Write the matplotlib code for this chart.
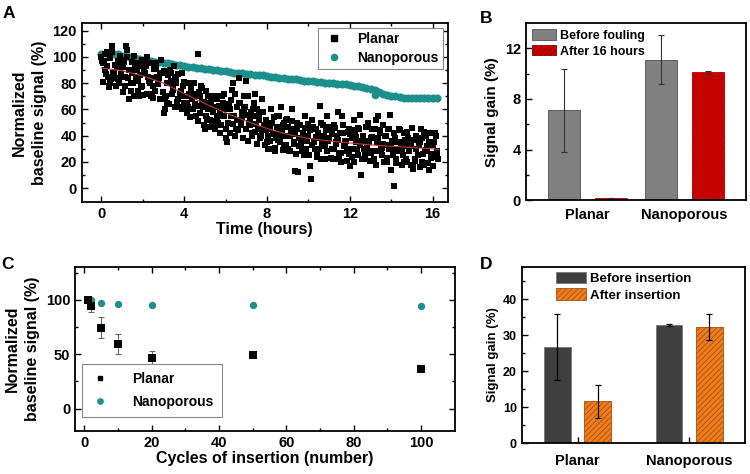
import numpy as np
import matplotlib
matplotlib.use("Agg")
import matplotlib.pyplot as plt
from matplotlib.patches import Patch
from matplotlib.lines import Line2D

plt.rcParams['font.family'] = ['Liberation Sans', 'DejaVu Sans']
plt.rcParams['font.weight'] = 'bold'
plt.rcParams['axes.labelweight'] = 'bold'
plt.rcParams['hatch.linewidth'] = 0.6

# ---------------- Panel A data ----------------
# planar run 1 (16 readings per hour)
planar_rows = [
    [100, 95, 97, 90, 104, 85, 78, 80, 108, 88, 86, 84, 92, 83, 100, 87],
    [98, 73, 85, 108, 105, 68, 90, 80, 88, 70, 92, 95, 82, 70, 86, 78],
    [97, 90, 88, 100, 85, 82, 70, 72, 78, 95, 92, 85, 80, 88, 98, 68],
    [57, 60, 70, 65, 88, 90, 82, 75, 93, 85, 80, 68, 62, 72, 88, 78],
    [65, 70, 57, 62, 80, 75, 68, 60, 72, 55, 63, 102, 70, 78, 66, 48],
    [45, 55, 60, 65, 52, 70, 58, 48, 62, 68, 50, 55, 42, 60, 65, 72],
    [38, 35, 50, 60, 55, 75, 80, 72, 45, 52, 84, 65, 48, 58, 70, 62],
    [82, 70, 50, 48, 42, 55, 65, 72, 60, 45, 52, 40, 68, 58, 48, 44],
    [35, 40, 45, 60, 50, 30, 28, 38, 55, 42, 35, 62, 48, 32, 40, 52],
    [30, 28, 40, 60, 45, 35, 13, 50, 12, 38, 32, 28, 42, 55, 30, 36],
    [40, 17, 7, 52, 35, 30, 45, 25, 38, 63, 22, 48, 40, 32, 55, 36],
    [38, 45, 30, 22, 48, 35, 40, 58, 27, 20, 55, 42, 32, 36, 28, 45],
    [17, 30, 38, 52, 42, 35, 25, 45, 56, 10, 40, 30, 22, 36, 50, 28],
    [38, 45, 28, 22, 52, 35, 55, 42, 30, 25, 48, 33, 40, 20, 45, 56],
    [14, 30, 2, 38, 22, 28, 45, 35, 18, 25, 42, 32, 20, 38, 28, 34],
    [46, 15, 22, 30, 38, 25, 35, 45, 20, 18, 28, 40, 32, 14, 42, 26],
    [17, 35, 42, 28, 22],
]
# planar run 2 (interleaved readings)
planar_rows2 = [
    [97, 81, 102, 87, 93, 77, 99, 83, 104, 88, 94, 78, 97, 80, 101, 85],
    [92, 96, 78, 100, 84, 90, 74, 96, 80, 101, 85, 90, 74, 93, 77, 98],
    [71, 88, 93, 72, 95, 80, 84, 69, 91, 74, 95, 79, 84, 68, 88, 73],
    [89, 69, 80, 86, 64, 88, 72, 78, 62, 84, 66, 87, 70, 74, 60, 81],
    [61, 80, 65, 72, 54, 76, 60, 80, 64, 70, 51, 73, 57, 76, 62, 66],
    [74, 53, 70, 47, 66, 51, 62, 45, 70, 54, 63, 59, 48, 70, 55, 62],
    [45, 60, 64, 42, 67, 49, 55, 40, 62, 44, 65, 50, 54, 38, 60, 45],
    [56, 36, 52, 58, 40, 60, 43, 49, 34, 56, 38, 58, 44, 48, 33, 52],
    [30, 48, 36, 50, 41, 54, 31, 47, 37, 55, 40, 44, 29, 50, 33, 53],
    [47, 28, 43, 51, 34, 41, 26, 45, 32, 48, 36, 40, 25, 46, 30, 49],
    [25, 44, 33, 47, 36, 39, 24, 42, 30, 50, 34, 38, 22, 44, 28, 47],
    [45, 23, 41, 30, 46, 34, 37, 22, 42, 27, 48, 32, 36, 21, 43, 26],
    [41, 24, 44, 20, 39, 30, 46, 33, 36, 22, 40, 25, 47, 31, 35, 21],
    [27, 39, 22, 45, 18, 38, 28, 44, 31, 34, 20, 40, 23, 45, 30, 33],
    [36, 25, 42, 19, 35, 29, 44, 31, 30, 20, 37, 22, 43, 28, 32, 18],
    [17, 37, 21, 40, 25, 33, 16, 38, 26, 43, 29, 31, 19, 35, 23, 42],
    [33, 24, 40, 27],
]
planar_vals = [v for row in planar_rows for v in row]
planar_time = np.arange(len(planar_vals)) / 16.0
planar_vals2 = [v for row in planar_rows2 for v in row]
planar_time2 = np.arange(len(planar_vals2)) / 16.0 + 1 / 32.0

nano_vals = [102, 103, 103, 102, 102, 101, 100.5, 100, 99, 98.5,
             98, 97.5, 97, 96.5, 96, 95.5, 95, 94.5, 94, 93.5,
             93, 92.5, 92, 91.5, 91.5, 91, 90.5, 90, 90, 89.5,
             89, 88.5, 88, 88, 87.5, 87, 87, 86.5, 86, 86,
             85.5, 85, 84.5, 84, 84, 83.5, 83, 83, 82.5, 82,
             82, 81.5, 81, 81, 80.5, 80.5, 80, 79.5, 79, 79,
             78.5, 78, 77.5, 77, 76.5, 75.5, 75, 73.5, 72, 71,
             70.5, 70, 69.5, 69, 69, 69, 68.5, 68.5, 68.5, 68.5,
             69, 69]
nano_time = np.arange(len(nano_vals)) * 0.2
nano_out_t = [13.2]
nano_out_v = [71]

fit_t = [0, 1, 2, 3, 4, 5, 6, 7, 8, 9, 10, 11, 12, 13, 14, 15, 16, 16.3]
fit_v = [91.5, 89.5, 85.5, 80, 72, 64.5, 57.5, 51, 45.5, 41, 38, 36, 34.5, 33, 32, 31, 30, 29.5]

# ---------------- Panel B data ----------------
b_cats = ['Planar', 'Nanoporous']
b_before = [7.1, 11.1]
b_before_err = [3.3, 1.95]
b_after = [0.15, 10.1]
b_after_err = [0.0, 0.15]

# ---------------- Panel C data ----------------
c_cycles = [1, 2, 5, 10, 20, 50, 100]
c_planar = [100, 94, 74.5, 59.5, 46.5, 49, 36.5]
c_planar_err = [0, 5, 9.5, 9.5, 6.5, 2.5, 1.5]
c_nano = [100, 100, 97, 96.5, 95, 95, 94]

# ---------------- Panel D data ----------------
d_cats = ['Planar', 'Nanoporous']
d_before = [26.8, 32.8]
d_before_err = [9.2, 0.2]
d_after = [11.6, 32.2]
d_after_err = [4.7, 3.6]

TEAL = '#1b8f8b'

fig = plt.figure(figsize=(7.5, 4.74), dpi=100)

def style(ax, mirror=True):
    for s in ax.spines.values():
        s.set_linewidth(1.3)
    ax.tick_params(which='both', direction='in', top=mirror, right=mirror, width=1.0)
    ax.tick_params(which='major', length=4)
    ax.tick_params(which='minor', length=2)

# ---- A ----
axA = fig.add_axes([0.109, 0.574, 0.488, 0.378])
axA.scatter(nano_time, nano_vals, s=34, marker='o', color=TEAL, linewidths=0, zorder=2)
axA.scatter(nano_out_t, nano_out_v, s=30, marker='o', color=TEAL, linewidths=0, zorder=2)
axA.scatter(planar_time, planar_vals, s=17, marker='s', color='black', linewidths=0, zorder=3)
axA.scatter(planar_time2, planar_vals2, s=17, marker='s', color='black', linewidths=0, zorder=3)
axA.plot(fit_t, fit_v, color='#c0392b', lw=0.8, zorder=4)
axA.set_xlim(-0.95, 16.73)
axA.set_ylim(-10.4, 126)
axA.set_xticks([0, 4, 8, 12, 16])
axA.set_xticks([2, 6, 10, 14], minor=True)
axA.set_yticks([0, 20, 40, 60, 80, 100, 120])
axA.set_yticks([10, 30, 50, 70, 90, 110], minor=True)
style(axA)
axA.tick_params(labelsize=10.5)
axA.set_xlabel('Time (hours)', fontsize=11.5, labelpad=1)
axA.set_ylabel('Normalized\nbaseline signal (%)', fontsize=11.5, labelpad=4, linespacing=1.4)
hA = [Line2D([], [], marker='s', color='black', ls='none', ms=4),
      Line2D([], [], marker='o', color=TEAL, ls='none', ms=4.5)]
legA = axA.legend(hA, ['Planar', 'Nanoporous'], loc='upper right', fontsize=10,
                  frameon=True, fancybox=False, edgecolor='#888888', framealpha=1,
                  handletextpad=0.9, borderaxespad=0.35, labelspacing=0.35,
                  handlelength=1.6, borderpad=0.3)
legA.get_frame().set_linewidth(0.8)

# ---- B ----
axB = fig.add_axes([0.701, 0.578, 0.293, 0.373])
xB = np.arange(len(b_cats))
wB = 0.33
axB.bar(xB - 0.245, b_before, wB, color='#808080', edgecolor='#505050', linewidth=0.6,
        yerr=b_before_err, error_kw=dict(ecolor='#333333', elinewidth=0.8, capsize=2, capthick=0.8))
axB.bar(xB + 0.245, b_after, wB, color='#cc0000', edgecolor='#b00000', linewidth=0.6,
        hatch='//////',
        yerr=b_after_err, error_kw=dict(ecolor='#333333', elinewidth=0.8, capsize=2, capthick=0.8))
axB.set_xlim(-0.64, 1.63)
axB.set_ylim(0, 14)
axB.set_xticks(xB)
axB.set_xticklabels(b_cats)
axB.set_yticks([0, 4, 8, 12])
axB.set_yticks([2, 6, 10], minor=True)
style(axB, mirror=False)
axB.tick_params(axis='x', which='both', length=0, pad=6)
axB.tick_params(labelsize=10.5)
axB.set_ylabel('Signal gain (%)', fontsize=11, labelpad=4)
hB = [Patch(facecolor='#808080', edgecolor='#505050', linewidth=0.6),
      Patch(facecolor='#cc0000', edgecolor='#8a0000', hatch='//////', linewidth=0.6)]
axB.legend(hB, ['Before fouling', 'After 16 hours'], loc='upper left', fontsize=9,
           frameon=False, handlelength=1.9, handleheight=0.9, handletextpad=0.3,
           labelspacing=0.25, borderaxespad=0.3, borderpad=0.2)

# ---- C ----
axC = fig.add_axes([0.100, 0.0914, 0.507, 0.345])
axC.errorbar(c_cycles, c_planar, yerr=c_planar_err, fmt='none', ecolor='#666666',
             elinewidth=0.8, capsize=2.5, capthick=0.8, zorder=2)
axC.scatter(c_cycles, c_nano, s=28, marker='o', color=TEAL, linewidths=0, zorder=3)
axC.scatter(c_cycles, c_planar, s=28, marker='s', color='black', linewidths=0, zorder=4)
axC.set_xlim(-2.8, 110.2)
axC.set_ylim(-20.2, 130)
axC.set_xticks([0, 20, 40, 60, 80, 100])
axC.set_xticks([10, 30, 50, 70, 90], minor=True)
axC.set_yticks([0, 50, 100])
axC.set_yticks([25, 75, 125], minor=True)
style(axC)
axC.tick_params(labelsize=10.5)
axC.set_xlabel('Cycles of insertion (number)', fontsize=11.5, labelpad=1)
axC.set_ylabel('Normalized\nbaseline signal (%)', fontsize=11.5, labelpad=4, linespacing=1.4)
hC = [Line2D([], [], marker='s', color='black', ls='none', ms=3.5),
      Line2D([], [], marker='o', color=TEAL, ls='none', ms=3.8)]
legC = axC.legend(hC, ['Planar', 'Nanoporous'], loc='lower left',
                  bbox_to_anchor=(0.018, 0.084), fontsize=10,
                  frameon=True, fancybox=False, edgecolor='#888888', framealpha=1,
                  handletextpad=1.6, borderaxespad=0.0, labelspacing=0.7,
                  handlelength=1.5, borderpad=0.55)
legC.get_frame().set_linewidth(0.8)

# ---- D ----
axD = fig.add_axes([0.6956, 0.0648, 0.2977, 0.3726])
xD = np.arange(len(d_cats))
wD = 0.24
axD.bar(xD - 0.18, d_before, wD, color='#3f3f3f', edgecolor='#777777', linewidth=0.6,
        yerr=d_before_err, error_kw=dict(ecolor='black', elinewidth=0.9, capsize=2, capthick=0.9))
axD.bar(xD + 0.18, d_after, wD, color='#ef7d1e', edgecolor='#a8500a', linewidth=0.6,
        hatch='//////',
        yerr=d_after_err, error_kw=dict(ecolor='black', elinewidth=0.9, capsize=2, capthick=0.9))
axD.set_xlim(-0.5, 1.5)
axD.set_ylim(0, 49)
axD.set_xticks(xD)
axD.set_xticklabels(d_cats)
axD.set_yticks([0, 10, 20, 30, 40])
axD.set_yticks([5, 15, 25, 35, 45], minor=True)
style(axD, mirror=False)
axD.tick_params(axis='y', labelsize=9)
axD.tick_params(axis='x', labelsize=10.5, pad=8)
axD.set_ylabel('Signal gain (%)', fontsize=9.5, labelpad=3)
hD = [Patch(facecolor='#3f3f3f', edgecolor='#777777', linewidth=0.6),
      Patch(facecolor='#ef7d1e', edgecolor='#a8500a', hatch='//////', linewidth=0.6)]
axD.legend(hD, ['Before insertion', 'After insertion'], loc='upper left',
           bbox_to_anchor=(0.13, 1.0), fontsize=9.5, frameon=False,
           handlelength=2.3, handleheight=0.95, handletextpad=0.3,
           labelspacing=0.25, borderaxespad=0.2, borderpad=0.2)

# Panel letters
for lbl, x, y in [('A', 0.004, 0.972), ('B', 0.640, 0.962), ('C', 0.002, 0.442), ('D', 0.640, 0.442)]:
    fig.text(x, y, lbl, fontsize=12.5, fontweight='bold', va='center', ha='left')

fig.savefig('out.png', dpi=100)
